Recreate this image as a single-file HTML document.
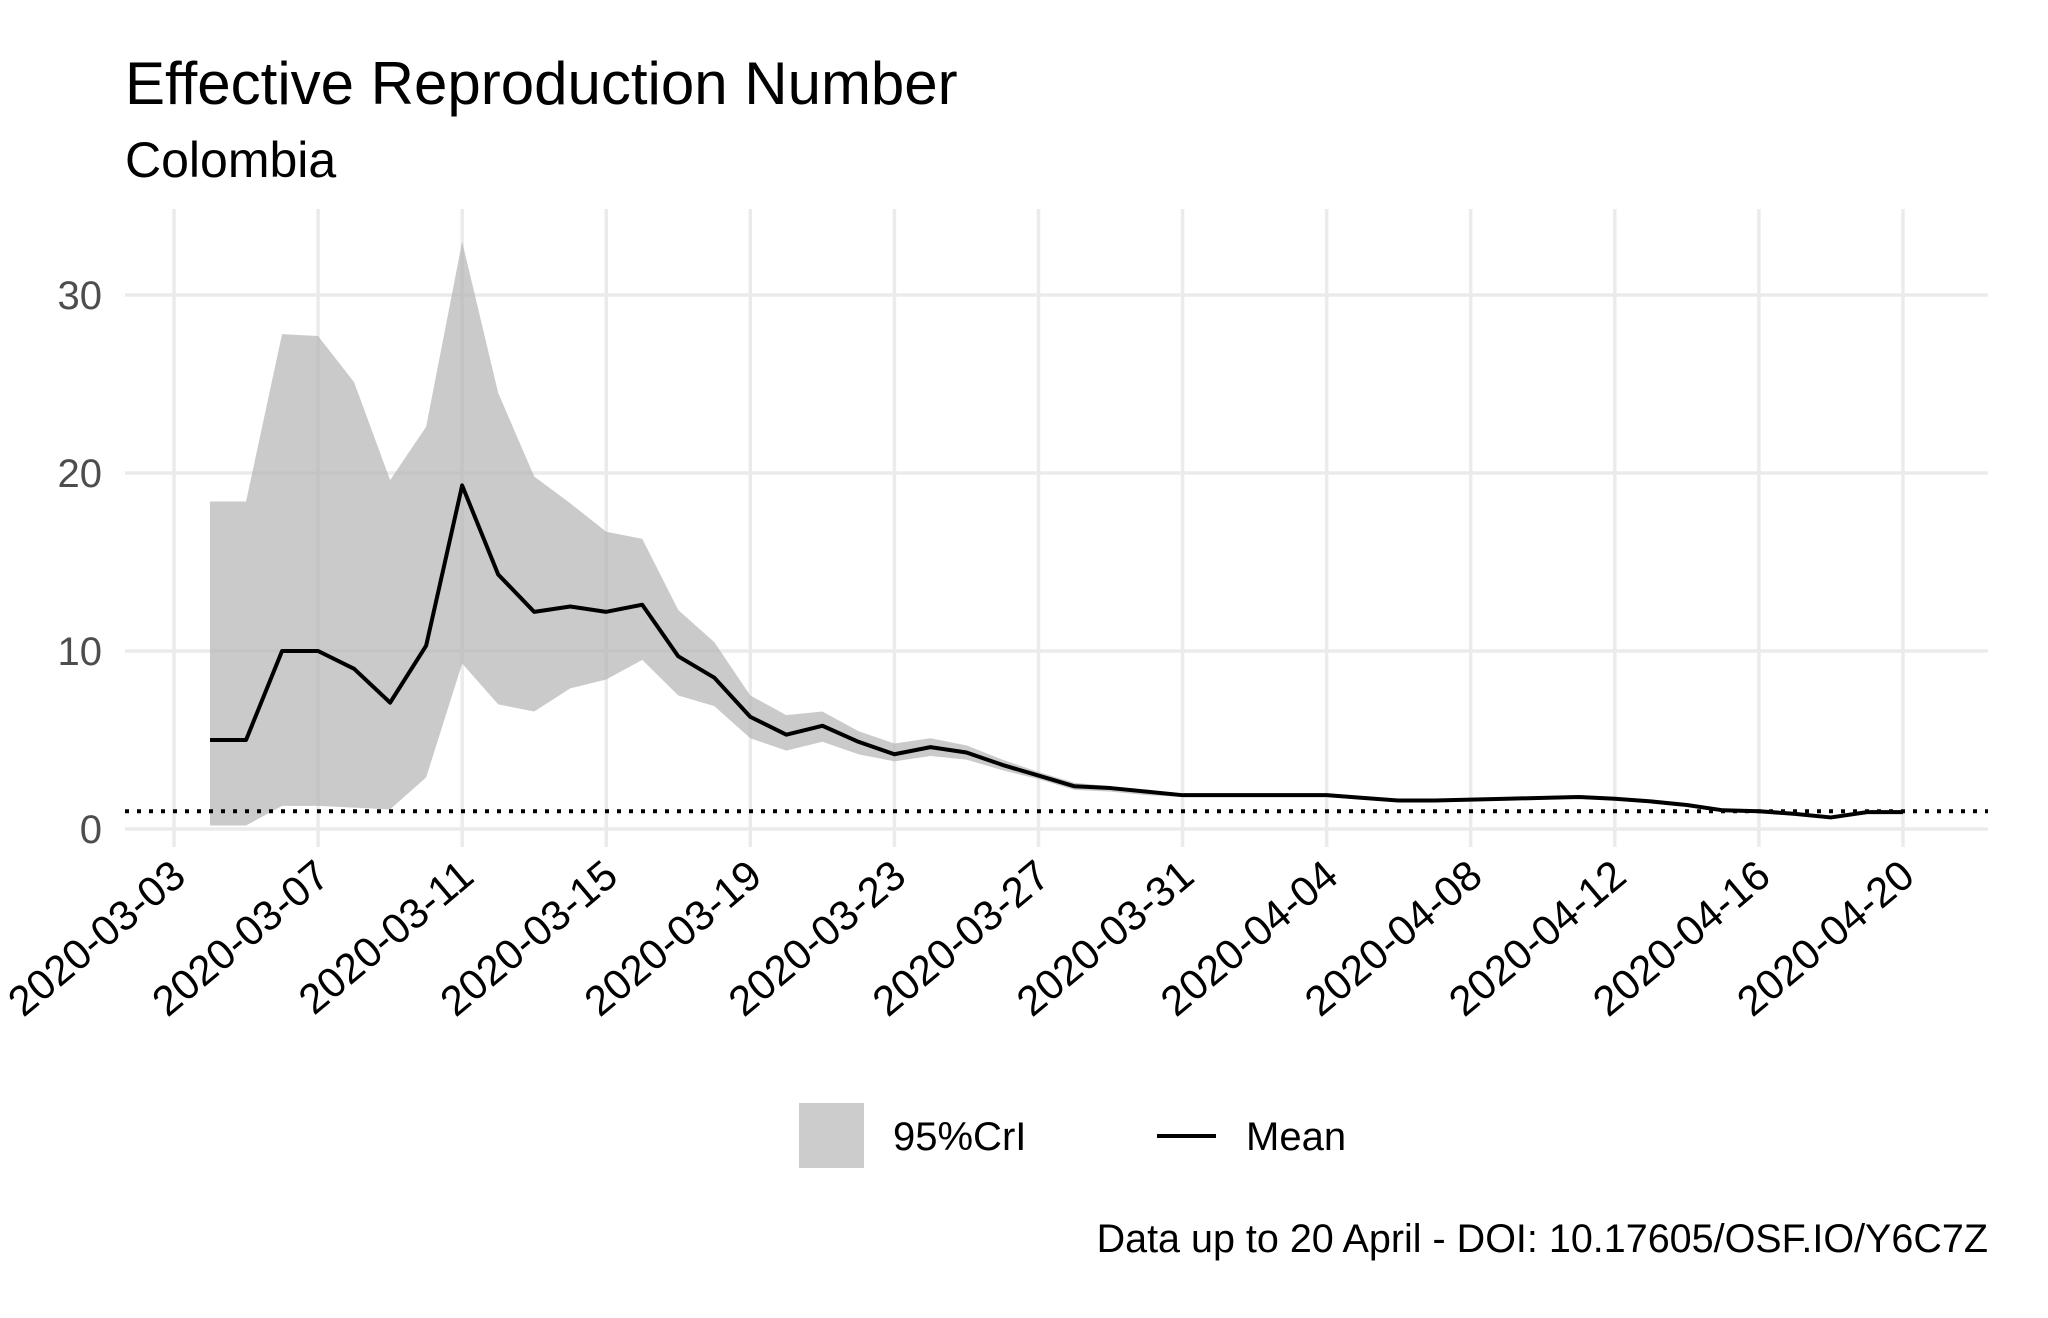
<!DOCTYPE html>
<html><head><meta charset="utf-8"><style>
html,body{margin:0;padding:0;background:#fff}
svg{display:block;font-family:"Liberation Sans",Arial,sans-serif}
</style></head><body>
<svg id="chart" width="2048" height="1318" viewBox="0 0 2048 1318">
<text x="125" y="104" font-size="60" fill="#000">Effective Reproduction Number</text>
<text x="125" y="177" font-size="50" fill="#000">Colombia</text>
<g id="grid"></g>
<g id="band"></g>
<g id="lines"></g>
<g id="yaxis"></g>
<g id="xaxis"></g>
<g>
<rect x="799" y="1103" width="65" height="65" fill="#cccccc"/>
<text x="893" y="1150" font-size="40">95%CrI</text>
<line x1="1157" y1="1136" x2="1216" y2="1136" stroke="#000" stroke-width="4"/>
<text x="1246" y="1150" font-size="40">Mean</text>
</g>
<text x="1988" y="1252" font-size="39.5" text-anchor="end">Data up to 20 April - DOI: 10.17605/OSF.IO/Y6C7Z</text>
</svg>
<script>
const meanValues=[5,5,10,10,9,7.1,10.3,19.3,14.3,12.2,12.5,12.2,12.6,9.7,8.5,6.3,5.3,5.8,4.9,4.2,4.6,4.3,3.6,3.0,2.4,2.3,2.1,1.9,1.9,1.9,1.9,1.9,1.75,1.6,1.6,1.65,1.7,1.75,1.8,1.7,1.55,1.35,1.05,1.0,0.85,0.65,0.95,0.95];
const upperValues=[18.4,18.4,27.8,27.7,25.1,19.6,22.6,33,24.5,19.8,18.3,16.7,16.3,12.3,10.5,7.5,6.4,6.6,5.5,4.8,5.1,4.7,3.9,3.2,2.6,2.4,2.2,2.0,2,2,2,2,1.85,1.7,1.7,1.75,1.8,1.85,1.9,1.8,1.65,1.45,1.15,1.1,0.95,0.75,1.05,1.05];
const lowerValues=[0.2,0.2,1.3,1.3,1.2,1.1,2.9,9.3,7.0,6.6,7.9,8.4,9.5,7.5,6.9,5.1,4.4,4.9,4.2,3.8,4.1,3.9,3.3,2.8,2.2,2.1,1.9,1.8,1.8,1.8,1.8,1.8,1.65,1.5,1.5,1.55,1.6,1.65,1.7,1.6,1.45,1.25,0.95,0.9,0.75,0.55,0.85,0.85];
const startDayOffset=1; // data starts 2020-03-04
const xTickLabels=["2020-03-03","2020-03-07","2020-03-11","2020-03-15","2020-03-19","2020-03-23","2020-03-27","2020-03-31","2020-04-04","2020-04-08","2020-04-12","2020-04-16","2020-04-20"];
const xTickDays=[0,4,8,12,16,20,24,28,32,36,40,44,48];
const yTickValues=[0,10,20,30];
const thresholdValue=1;

const NS="http://www.w3.org/2000/svg";
const X0=174,DX=36.02,Y0=829,DY=17.8;
const L=125,R=1988,T=209,B=847;
const xs=d=>X0+d*DX, ys=v=>Y0-v*DY;
function mk(tag,attrs,parent){const e=document.createElementNS(NS,tag);for(const k in attrs)e.setAttribute(k,attrs[k]);parent.appendChild(e);return e;}
const grid=document.getElementById('grid');
yTickValues.forEach(v=>{
  const l=mk('line',{x1:L,x2:R,y1:ys(v),y2:ys(v),stroke:'#ebebeb','stroke-width':3.5},grid);
  
  
});
xTickDays.forEach(d=>{
  const l=mk('line',{x1:xs(d),x2:xs(d),y1:T,y2:B,stroke:'#ebebeb','stroke-width':3.5},grid);
  
  
});
let pts=upperValues.map((v,i)=>xs(i+startDayOffset)+','+ys(v));
for(let i=lowerValues.length-1;i>=0;i--)pts.push(xs(i+startDayOffset)+','+ys(lowerValues[i]));
const band=mk('polygon',{points:pts.join(' '),fill:'#b3b3b3','fill-opacity':0.7},document.getElementById('band'));


const lg=document.getElementById('lines');
const th=mk('line',{x1:L,x2:R,y1:ys(thresholdValue),y2:ys(thresholdValue),stroke:'#000','stroke-width':4,'stroke-dasharray':'4 8'},lg);


const ml=mk('polyline',{points:meanValues.map((v,i)=>xs(i+startDayOffset)+','+ys(v)).join(' '),fill:'none',stroke:'#000','stroke-width':4,'stroke-linejoin':'round'},lg);


const ya=document.getElementById('yaxis');
yTickValues.forEach(v=>{
  const t=mk('text',{x:102,y:ys(v)+14,'font-size':40,fill:'#4d4d4d','text-anchor':'end'},ya);
  t.textContent=v;
  
  
});
const xa=document.getElementById('xaxis');
xTickLabels.forEach((s,i)=>{
  const x=xs(xTickDays[i])+14,y=880;
  const t=mk('text',{x:x,y:y,'font-size':42,fill:'#000','text-anchor':'end',transform:`rotate(-40 ${x} ${y})`},xa);
  t.textContent=s;
  
  
});
</script>
</body></html>
